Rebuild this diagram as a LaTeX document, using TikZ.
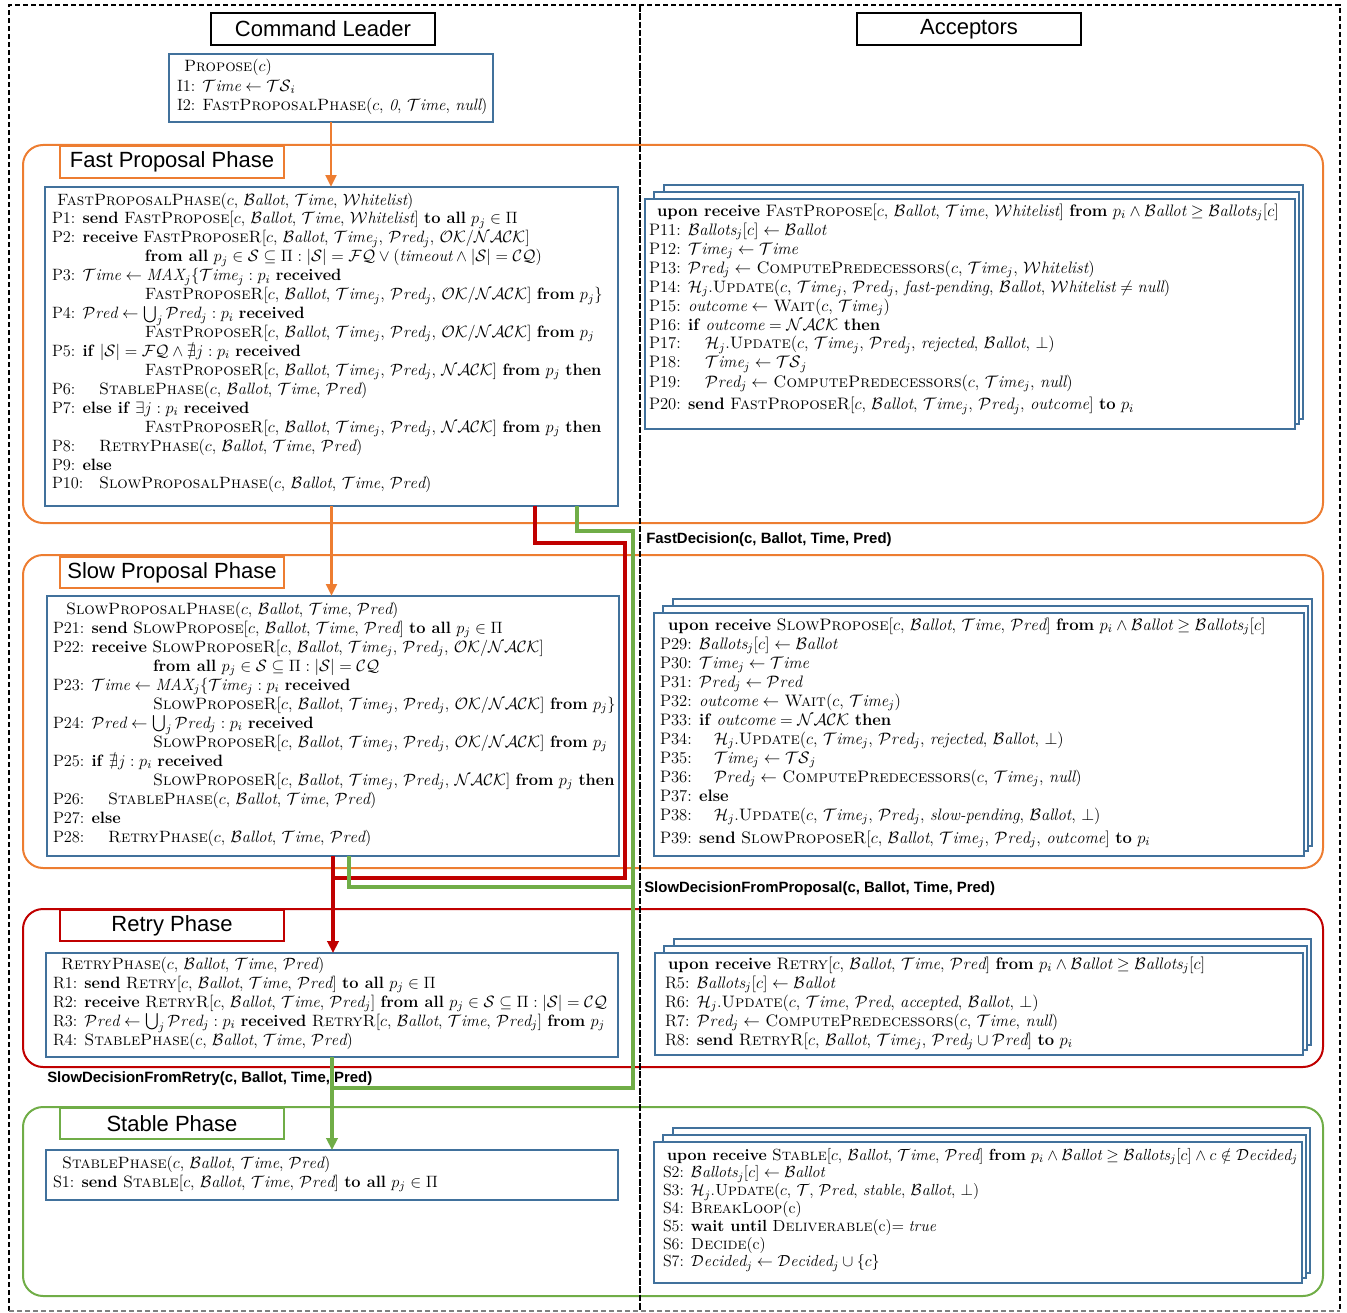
\RequirePackage{fix-cm}
\documentclass[tikz,border=0pt]{standalone}
\usepackage{amsmath,amssymb}
\usepackage{fontspec}
\newfontfamily\arial{Liberation Sans}
\usetikzlibrary{fit,arrows.meta}
\definecolor{boxblue}{RGB}{65,113,156}
\definecolor{phorange}{RGB}{237,125,49}
\definecolor{phred}{RGB}{192,0,0}
\definecolor{phgreen}{RGB}{112,173,71}
\newlength\px \setlength\px{0.75pt}
\newcommand{\mB}{\mathcal{B}\mathit{allot}}
\newcommand{\mBs}{\mathcal{B}\mathit{allots}}
\newcommand{\mT}{\mathcal{T}\mathit{ime}}
\newcommand{\mP}{\mathcal{P}\mathit{red}}
\newcommand{\mW}{\mathcal{W}\mathit{hitelist}}
\newcommand{\mD}{\mathcal{D}\mathit{ecided}}
\newcommand{\mOK}{\mathcal{OK}/\mathcal{NACK}}
\newcommand{\mN}{\mathcal{NACK}}
\newcommand{\mS}{\mathcal{S}}
\newcommand{\mFQ}{\mathcal{FQ}}
\newcommand{\mCQ}{\mathcal{CQ}}
\newcommand{\mTS}{\mathcal{TS}}
\newcommand{\mH}{\mathcal{H}_j}
\newcommand{\kw}[1]{\textbf{#1}}
\newcommand{\Ln}[1]{\hbox{#1}}
\newcommand{\Lind}[2]{\hbox{\kern#1\px #2}}
\newcommand{\Llab}[3]{\hbox{\makebox[#1\px][l]{#2}#3}}
\newcommand{\Lines}[2]{\vtop{\baselineskip=#1\px\lineskiplimit=-1000pt\lineskip=0pt #2}}
\newcommand{\Stack}[5]{%
  \draw[bluebox, fill=white] ({#1+19},{#2-14}) rectangle ({#3+8},{#4-10});
  \draw[bluebox, fill=white] ({#1+9},{#2-7}) rectangle ({#3+4},{#4-5});
  \node[bluebox, fill=white, fit={(#1,#2)(#3,#4)}] (#5) {};}
\tikzset{
  bluebox/.style={draw=boxblue, line width=1.5pt, inner sep=0pt, outer sep=0pt},
  phasebox/.style={draw=#1, line width=1.5pt, rounded corners=15pt, inner sep=0pt, outer sep=0pt},
  phasetitle/.style={draw=#1, fill=white, line width=1.5pt, inner sep=0pt, outer sep=0pt, minimum width=168pt, minimum height=23.5pt, font=\arial\fontsize{16.5}{18}\selectfont},
  hdrbox/.style={phasetitle=black},
  algtxt/.style={anchor=base west, inner sep=0pt, outer sep=0pt, font=\fontsize{12.3}{14}\selectfont},
  algtxtR/.style={anchor=base west, inner sep=0pt, outer sep=0pt, font=\fontsize{12.45}{14}\selectfont},
  smalltxt/.style={anchor=base west, inner sep=0pt, outer sep=0pt, font=\fontsize{12.05}{13}\selectfont},
  declabel/.style={anchor=west, inner sep=0pt, font=\arial\bfseries\fontsize{11.2}{13}\selectfont},
  orangearrow/.style={draw=phorange, line width=2.2pt, -{Triangle[length=9pt,width=8pt]}},
  redc/.style={draw=phred, line width=3pt},
  greenc/.style={draw=phgreen, line width=3pt},
  tipc/.style={-{Triangle[length=9pt,width=8.5pt]}},
}
\begin{document}
\begin{tikzpicture}[x=0.75pt,y=-0.75pt]
\useasboundingbox (0,0) rectangle (1347,1313);
% outer frame
\draw[black, line width=1.3pt, dash pattern=on 4pt off 2pt] (9,1311) -- (9,5) -- (1340,5) -- (1340,1311);
\draw[gray, line width=1pt, dash pattern=on 4pt off 2pt] (9,1311) -- (1340,1311);
% phase containers
\node[phasebox=phorange, fit={(23,145)(1323,523)}] (fastPh) {};
\node[phasebox=phorange, fit={(23,555)(1323,868)}] (slowPh) {};
\node[phasebox=phred, fit={(23,909)(1323,1067)}] (retryPh) {};
\node[phasebox=phgreen, fit={(23,1107)(1323,1296)}] (stablePh) {};
% titles
\node[phasetitle=phorange] (fastT) at (172,162) {Fast Proposal Phase};
\node[phasetitle=phorange] (slowT) at (172,572.5) {Slow Proposal Phase};
\node[phasetitle=phred] (retryT) at (172,925.5) {Retry Phase};
\node[phasetitle=phgreen] (stableT) at (172,1123.5) {Stable Phase};
\node[hdrbox] (cmdL) at (323,29) {Command Leader};
\node[hdrbox] (accH) at (969,29) {Acceptors};
% left boxes
\node[bluebox, fill=white, fit={(169,54)(493,122)}] (propose) {};
\node[bluebox, fill=white, fit={(45,187)(618,506)}] (fastL) {};
\node[bluebox, fill=white, fit={(47,596)(619,856)}] (slowL) {};
\node[bluebox, fill=white, fit={(46,953)(618,1057)}] (retryL) {};
\node[bluebox, fill=white, fit={(46,1150)(618,1200)}] (stableL) {};
% acceptor stacks
\Stack{645}{199}{1295}{429}{fastR}
\Stack{654}{613}{1304}{856}{slowR}
\Stack{655}{953}{1303}{1055}{retryR}
\Stack{654}{1142}{1302}{1283}{stableR}
% connectors
\coordinate (r1) at (535,543);
\coordinate (r2) at (625,878);
\coordinate (g1) at (577,531);
\coordinate (g2) at (633,1088);
\coordinate (g3) at (349,887);
\draw[orangearrow] (propose.south) -- (propose.south |- fastL.north);
\draw[orangearrow] (fastL.south) -- (fastL.south |- slowL.north);
\draw[redc] (fastL.south -| r1) -- (r1) -| (r2) -- (r2 -| retryL.north);
\draw[redc, tipc] (slowL.south) -- (slowL.south |- retryL.north);
\draw[greenc] (fastL.south -| g1) -- (g1) -| (g2) -- (g2 -| stableL.north);
\draw[greenc] (slowL.south -| g3) -- (g3) -- (g3 -| g2);
\draw[greenc, tipc] (retryL.south) -- (retryL.south |- stableL.north);
% decision labels
\node[declabel] (fdec) at (646,540) {FastDecision(c, Ballot, Time, Pred)};
\node[declabel] (sdp) at (644,889) {SlowDecisionFromProposal(c, Ballot, Time, Pred)};
\node[declabel] (sdr) at (47,1079) {SlowDecisionFromRetry(c, Ballot, Time, Pred)};
% texts
\node[algtxt] (proposeT) at (177,72) {\Lines{19.5}{%
\Lind{7}{\textsc{Propose}($c$)}
\Ln{I1: $\mT\leftarrow\mTS_i$}
\Ln{I2: \textsc{FastProposalPhase}($c$, $\mathit{0}$, $\mT$, $\mathit{null}$)}}};
\node[algtxt] (fastLT) at (52,205) {\Lines{18.93}{%
\Lind{5}{\textsc{FastProposalPhase}($c$, $\mB$, $\mT$, $\mW$)}
\Ln{P1: \kw{send} \textsc{FastPropose}[$c$, $\mB$, $\mT$, $\mW$] \kw{to all} $p_j\in\Pi$}
\Ln{P2: \kw{receive} \textsc{FastProposeR}[$c$, $\mB$, $\mT_j$, $\mP_j$, $\mOK$]}
\Lind{93}{\kw{from all} $p_j\in\mS\subseteq\Pi:|\mS|=\mFQ\vee(\mathit{timeout}\wedge|\mS|=\mCQ)$}
\Ln{P3: $\mT\leftarrow\mathit{MAX}_j\{\mT_j:p_i$ \kw{received}}
\Lind{93}{\textsc{FastProposeR}[$c$, $\mB$, $\mT_j$, $\mP_j$, $\mOK$] \kw{from} $p_j\}$}
\Ln{P4: $\mP\leftarrow\bigcup_j\mP_j:p_i$ \kw{received}}
\Lind{93}{\textsc{FastProposeR}[$c$, $\mB$, $\mT_j$, $\mP_j$, $\mOK$] \kw{from} $p_j$}
\Ln{P5: \kw{if} $|\mS|=\mFQ\wedge\nexists j:p_i$ \kw{received}}
\Lind{93}{\textsc{FastProposeR}[$c$, $\mB$, $\mT_j$, $\mP_j$, $\mN$] \kw{from} $p_j$ \kw{then}}
\Llab{47}{P6:}{\textsc{StablePhase}($c$, $\mB$, $\mT$, $\mP$)}
\Ln{P7: \kw{else if} $\exists j:p_i$ \kw{received}}
\Lind{93}{\textsc{FastProposeR}[$c$, $\mB$, $\mT_j$, $\mP_j$, $\mN$] \kw{from} $p_j$ \kw{then}}
\Llab{47}{P8:}{\textsc{RetryPhase}($c$, $\mB$, $\mT$, $\mP$)}
\Ln{P9: \kw{else}}
\Llab{47}{P10:}{\textsc{SlowProposalPhase}($c$, $\mB$, $\mT$, $\mP$)}}};
\node[algtxtR] (fastRT) at (649,216) {\Lines{19}{%
\Lind{8}{\kw{upon receive} \textsc{FastPropose}[$c$, $\mB$, $\mT$, $\mW$] \kw{from} $p_i\wedge\mB\geq\mBs_j[c]$}
\Ln{P11: $\mBs_j[c]\leftarrow\mB$}
\Ln{P12: $\mT_j\leftarrow\mT$}
\Ln{P13: $\mP_j\leftarrow$ \textsc{ComputePredecessors}($c$, $\mT_j$, $\mW$)}
\Ln{P14: $\mH$.\textsc{Update}($c$, $\mT_j$, $\mP_j$, \textit{fast-pending}, $\mB$, $\mW\neq\mathit{null}$)}
\Ln{P15: $\mathit{outcome}\leftarrow$ \textsc{Wait}($c$, $\mT_j$)}
\Ln{P16: \kw{if} $\mathit{outcome}=\mN$ \kw{then}}
\Llab{56}{P17:}{$\mH$.\textsc{Update}($c$, $\mT_j$, $\mP_j$, \textit{rejected}, $\mB$, $\bot$)}
\Llab{56}{P18:}{$\mT_j\leftarrow\mTS_j$}
\Llab{56}{P19:}{$\mP_j\leftarrow$ \textsc{ComputePredecessors}($c$, $\mT_j$, $\mathit{null}$)}
\kern4\px
\Ln{P20: \kw{send} \textsc{FastProposeR}[$c$, $\mB$, $\mT_j$, $\mP_j$, $\mathit{outcome}$] \kw{to} $p_i$}}};
\node[algtxt] (slowLT) at (53,614) {\Lines{19}{%
\Lind{13}{\textsc{SlowProposalPhase}($c$, $\mB$, $\mT$, $\mP$)}
\Ln{P21: \kw{send} \textsc{SlowPropose}[$c$, $\mB$, $\mT$, $\mP$] \kw{to all} $p_j\in\Pi$}
\Ln{P22: \kw{receive} \textsc{SlowProposeR}[$c$, $\mB$, $\mT_j$, $\mP_j$, $\mOK$]}
\Lind{100}{\kw{from all} $p_j\in\mS\subseteq\Pi:|\mS|=\mCQ$}
\Ln{P23: $\mT\leftarrow\mathit{MAX}_j\{\mT_j:p_i$ \kw{received}}
\Lind{100}{\textsc{SlowProposeR}[$c$, $\mB$, $\mT_j$, $\mP_j$, $\mOK$] \kw{from} $p_j\}$}
\Ln{P24: $\mP\leftarrow\bigcup_j\mP_j:p_i$ \kw{received}}
\Lind{100}{\textsc{SlowProposeR}[$c$, $\mB$, $\mT_j$, $\mP_j$, $\mOK$] \kw{from} $p_j$}
\Ln{P25: \kw{if} $\nexists j:p_i$ \kw{received}}
\Lind{100}{\textsc{SlowProposeR}[$c$, $\mB$, $\mT_j$, $\mP_j$, $\mN$] \kw{from} $p_j$ \kw{then}}
\Llab{55}{P26:}{\textsc{StablePhase}($c$, $\mB$, $\mT$, $\mP$)}
\Ln{P27: \kw{else}}
\Llab{55}{P28:}{\textsc{RetryPhase}($c$, $\mB$, $\mT$, $\mP$)}}};
\node[algtxtR] (slowRT) at (660,630) {\Lines{19}{%
\Lind{8}{\kw{upon receive} \textsc{SlowPropose}[$c$, $\mB$, $\mT$, $\mP$] \kw{from} $p_i\wedge\mB\geq\mBs_j[c]$}
\Ln{P29: $\mBs_j[c]\leftarrow\mB$}
\Ln{P30: $\mT_j\leftarrow\mT$}
\Ln{P31: $\mP_j\leftarrow\mP$}
\Ln{P32: $\mathit{outcome}\leftarrow$ \textsc{Wait}($c$, $\mT_j$)}
\Ln{P33: \kw{if} $\mathit{outcome}=\mN$ \kw{then}}
\Llab{54}{P34:}{$\mH$.\textsc{Update}($c$, $\mT_j$, $\mP_j$, \textit{rejected}, $\mB$, $\bot$)}
\Llab{54}{P35:}{$\mT_j\leftarrow\mTS_j$}
\Llab{54}{P36:}{$\mP_j\leftarrow$ \textsc{ComputePredecessors}($c$, $\mT_j$, $\mathit{null}$)}
\Ln{P37: \kw{else}}
\Llab{54}{P38:}{$\mH$.\textsc{Update}($c$, $\mT_j$, $\mP_j$, \textit{slow-pending}, $\mB$, $\bot$)}
\kern4\px
\Ln{P39: \kw{send} \textsc{SlowProposeR}[$c$, $\mB$, $\mT_j$, $\mP_j$, $\mathit{outcome}$] \kw{to} $p_i$}}};
\node[algtxt] (retryLT) at (53,969) {\Lines{19}{%
\Lind{8}{\textsc{RetryPhase}($c$, $\mB$, $\mT$, $\mP$)}
\Ln{R1: \kw{send} \textsc{Retry}[$c$, $\mB$, $\mT$, $\mP$] \kw{to all} $p_j\in\Pi$}
\Ln{R2: \kw{receive} \textsc{RetryR}[$c$, $\mB$, $\mT$, $\mP_j$] \kw{from all} $p_j\in\mS\subseteq\Pi:|\mS|=\mCQ$}
\Ln{R3: $\mP\leftarrow\bigcup_j\mP_j:p_i$ \kw{received} \textsc{RetryR}[$c$, $\mB$, $\mT$, $\mP_j$] \kw{from} $p_j$}
\Ln{R4: \textsc{StablePhase}($c$, $\mB$, $\mT$, $\mP$)}}};
\node[algtxtR] (retryRT) at (665,969) {\Lines{19}{%
\Lind{3}{\kw{upon receive} \textsc{Retry}[$c$, $\mB$, $\mT$, $\mP$] \kw{from} $p_i\wedge\mB\geq\mBs_j[c]$}
\Ln{R5: $\mBs_j[c]\leftarrow\mB$}
\Ln{R6: $\mH$.\textsc{Update}($c$, $\mT$, $\mP$, \textit{accepted}, $\mB$, $\bot$)}
\Ln{R7: $\mP_j\leftarrow$ \textsc{ComputePredecessors}($c$, $\mT$, $\mathit{null}$)}
\Ln{R8: \kw{send} \textsc{RetryR}[$c$, $\mB$, $\mT_j$, $\mP_j\cup\mP$] \kw{to} $p_i$}}};
\node[algtxt] (stableLT) at (53,1168) {\Lines{19}{%
\Lind{9}{\textsc{StablePhase}($c$, $\mB$, $\mT$, $\mP$)}
\Ln{S1: \kw{send} \textsc{Stable}[$c$, $\mB$, $\mT$, $\mP$] \kw{to all} $p_j\in\Pi$}}};
\node[smalltxt] (stableRT) at (663,1160) {\Lines{17.8}{%
\Lind{4}{\kw{upon receive} \textsc{Stable}[$c$, $\mB$, $\mT$, $\mP$] \kw{from} $p_i\wedge\mB\geq\mBs_j[c]\wedge c\notin\mD_j$}
\Ln{S2: $\mBs_j[c]\leftarrow\mB$}
\Ln{S3: $\mH$.\textsc{Update}($c$, $\mathcal{T}$, $\mP$, \textit{stable}, $\mB$, $\bot$)}
\Ln{S4: \textsc{BreakLoop}(c)}
\Ln{S5: \kw{wait until} \textsc{Deliverable}(c)$=\mathit{true}$}
\Ln{S6: \textsc{Decide}(c)}
\Ln{S7: $\mD_j\leftarrow\mD_j\cup\{c\}$}}};
% divider
\draw[black, line width=1.5pt, dash pattern=on 5pt off 1.2pt] (640,5) -- (640,1311);
\end{tikzpicture}
\end{document}
